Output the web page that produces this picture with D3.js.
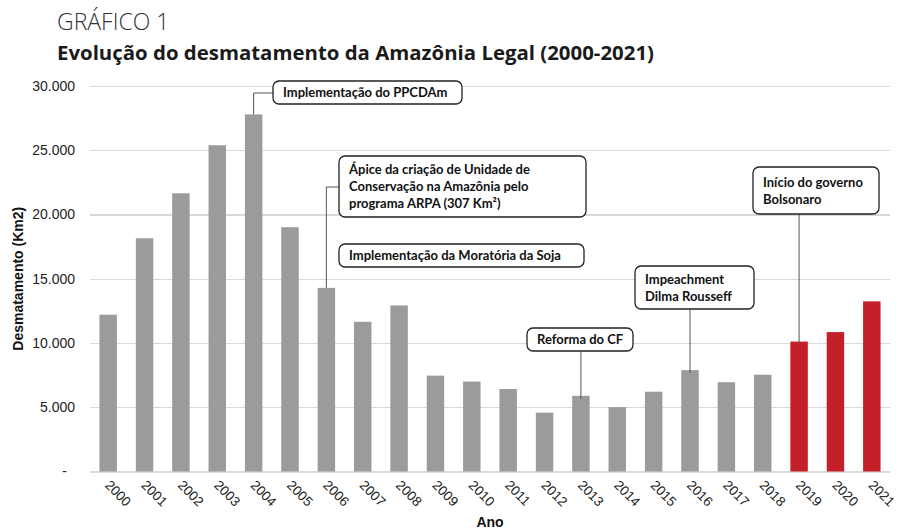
<!DOCTYPE html>
<meta charset="utf-8">
<head>
  <title>Evolução do desmatamento da Amazônia Legal</title>
</head>
<style>
  body { margin: 0; background: #fff; }
  .grid line { stroke: #d9d9d9; stroke-width: 1.2px; shape-rendering: crispEdges; }
  .grid path { display: none; }
  .grid text { font: 14px "Liberation Sans", Arial, sans-serif; fill: #222; }
  .xlab { font: 13.5px "Liberation Sans", Arial, sans-serif; fill: #222; }
  .atitle { font: bold 14px "Liberation Sans", Arial, sans-serif; fill: #111; }
  .note rect { fill: #fff; stroke: #222; stroke-width: 1.3px; }
  .note text { font: bold 13px Lato, "Open Sans", sans-serif; fill: #111; }
  .conn { stroke: #555; stroke-width: 1px; fill: none; }
</style>
<body>
<script src="https://cdn.jsdelivr.net/npm/d3@7"></script>
<script>
// data
var years = ["2000","2001","2002","2003","2004","2005","2006","2007","2008","2009","2010",
             "2011","2012","2013","2014","2015","2016","2017","2018","2019","2020","2021"];
var values = [12200, 18150, 21650, 25390, 27790, 19010, 14290, 11650, 12920, 7460, 7000,
              6420, 4580, 5890, 5010, 6210, 7890, 6950, 7530, 10110, 10850, 13240];
var redYears = ["2019", "2020", "2021"];
var yTicks = [0, 5000, 10000, 15000, 20000, 25000, 30000];

// annotations: text lines + the year they point to (null = no connector)
var noteLines = [
  ["Implementação do PPCDAm"],
  ["Ápice da criação de Unidade de", "Conservação na Amazônia pelo", "programa ARPA (307 Km²)"],
  ["Implementação da Moratória da Soja"],
  ["Reforma do CF"],
  ["Impeachment", "Dilma Rousseff"],
  ["Início do governo", "Bolsonaro"]
];
var noteYears = ["2004", "2006", null, "2013", "2016", "2019"];

// layout of the boxes (pixels)
var noteBox = [
  {x: 273, y: 81,  w: 189, h: 23, side: "left", elbowY: 93},
  {x: 339, y: 156, w: 247, h: 61, side: "left", elbowY: 187},
  {x: 339, y: 244, w: 245, h: 23},
  {x: 527, y: 328, w: 106, h: 23, side: "bottom"},
  {x: 635, y: 266, w: 119, h: 43, side: "bottom"},
  {x: 753, y: 167, w: 126, h: 47, side: "bottom"}
];

var width = 898, height = 530;
var plot = {left: 90, right: 890, top: 86, bottom: 471.5};

var svg = d3.select("body").append("svg")
    .attr("width", width)
    .attr("height", height);

// titles
svg.append("text")
    .attr("x", 57).attr("y", 30)
    .style("font", "300 23px 'Open Sans', 'Noto Sans', sans-serif")
    .style("fill", "#333")
    .text("GRÁFICO 1");

svg.append("text")
    .attr("x", 57).attr("y", 60)
    .style("font", "bold 20.4px 'Open Sans', 'Noto Sans', sans-serif")
    .style("fill", "#1a1a1a")
    .text("Evolução do desmatamento da Amazônia Legal (2000-2021)");

var xScale = d3.scaleBand().domain(years)
    .range([plot.left, plot.right])
    .paddingInner(0.52).paddingOuter(0.26);

var yScale = d3.scaleLinear().domain([0, 30000])
    .range([plot.bottom, plot.top]);

var br = d3.formatLocale({decimal: ",", thousands: ".", grouping: [3], currency: ["", ""]});
var fmt = br.format(",");

// gridlines + y labels
var yAxis = d3.axisLeft(yScale)
    .tickValues(yTicks)
    .tickSizeInner(-(plot.right - plot.left))
    .tickSizeOuter(0)
    .tickPadding(15)
    .tickFormat(function(d) { return d === 0 ? "-" : fmt(d); });

var gy = svg.append("g")
    .attr("class", "grid")
    .attr("transform", "translate(" + plot.left + ",0)")
    .call(yAxis);
gy.selectAll("text").filter(function(d) { return d === 0; }).attr("dx", "-8");

// bars
svg.selectAll(".bar")
    .data(years)
  .enter().append("rect")
    .attr("class", "bar")
    .attr("x", function(d) { return xScale(d); })
    .attr("width", xScale.bandwidth())
    .attr("y", function(d, i) { return yScale(values[i]); })
    .attr("height", function(d, i) { return plot.bottom - yScale(values[i]); })
    .style("fill", function(d) { return redYears.indexOf(d) >= 0 ? "#c4202a" : "#999b9c"; });

// x labels, rotated
svg.selectAll(".xlab")
    .data(years)
  .enter().append("text")
    .attr("class", "xlab")
    .attr("transform", function(d) {
      return "translate(" + (xScale(d) + xScale.bandwidth() / 2 - 4) + "," + 486 + ") rotate(45)";
    })
    .text(function(d) { return d; });

// axis titles
svg.append("text")
    .attr("class", "atitle")
    .attr("transform", "translate(23," + ((plot.top + plot.bottom) / 2) + ") rotate(-90)")
    .attr("text-anchor", "middle")
    .text("Desmatamento (Km2)");

svg.append("text")
    .attr("class", "atitle")
    .attr("x", (plot.left + plot.right) / 2)
    .attr("y", 527)
    .attr("text-anchor", "middle")
    .text("Ano");

// annotations
noteLines.forEach(function(lines, i) {
  var b = noteBox[i], yr = noteYears[i];
  if (yr) {
    var cx = xScale(yr) + xScale.bandwidth() / 2;
    var top = yScale(values[years.indexOf(yr)]);
    var pts;
    if (b.side === "left") {
      pts = [[cx, top], [cx, b.elbowY], [b.x, b.elbowY]];
    } else {
      pts = [[cx, top + 3], [cx, b.y + b.h]];
    }
    svg.append("path").attr("class", "conn").attr("d", d3.line()(pts));
  }
  var g = svg.append("g").attr("class", "note");
  g.append("rect")
      .attr("x", b.x).attr("y", b.y)
      .attr("width", b.w).attr("height", b.h)
      .attr("rx", 6).attr("ry", 6);
  var lh = 17;
  var y0 = b.y + b.h / 2 - (lines.length - 1) * lh / 2;
  lines.forEach(function(t, j) {
    g.append("text")
        .attr("x", b.x + 10)
        .attr("y", y0 + j * lh)
        .attr("dy", "0.35em")
        .text(t);
  });
});
</script>
</body>
